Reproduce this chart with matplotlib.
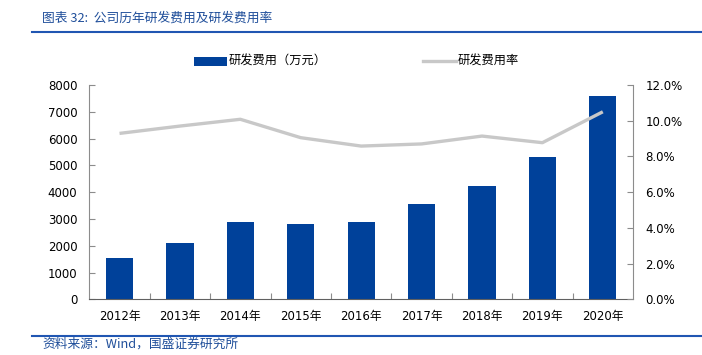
import matplotlib
matplotlib.use("Agg")
import matplotlib.pyplot as plt
from matplotlib.patches import Rectangle
from matplotlib.lines import Line2D
from matplotlib.ticker import FuncFormatter

plt.rcParams["font.family"] = ["DejaVu Sans", "Noto Sans CJK SC"]

years = ["2012年", "2013年", "2014年", "2015年", "2016年",
         "2017年", "2018年", "2019年", "2020年"]
rd_expense = [1552, 2090, 2896, 2821, 2873, 3567, 4216, 5299, 7597]
rd_ratio = [9.29, 9.70, 10.08, 9.05, 8.58, 8.70, 9.14, 8.77, 10.50]

BLUE = "#00419A"
GRAY = "#C8C8C8"
TITLE_BLUE = "#1F4E9A"
RULE_BLUE = "#2056B2"
AXIS = "#8C8C8C"
CJK = ["Noto Sans CJK SC", "DejaVu Sans"]

W, H = 702, 355
fig = plt.figure(figsize=(W / 100, H / 100), dpi=100, facecolor="white")

# plot area in pixels: x 89..633, y 85..299
ax = fig.add_axes([89.3 / W, 1 - 299.3 / H, (633 - 89.3) / W, (299.3 - 85) / H])
x = list(range(len(years)))
ax.bar(x, rd_expense, width=0.45, color=BLUE, zorder=2)
ax.set_xlim(-0.5, len(years) - 0.5)
ax.set_ylim(0, 8000)
ax.set_yticks(range(0, 8001, 1000))
ax.set_xticks([i + 0.5 for i in x[:-1]], minor=False)
ax.set_xticklabels([])
ax.set_xticks(x, minor=True)
ax.set_xticklabels(years, minor=True, fontsize=8.5)
ax.tick_params(axis="x", which="minor", length=0, pad=8)
ax.tick_params(axis="x", which="major", direction="in", length=4, color=AXIS)
ax.tick_params(axis="y", direction="in", length=4, color=AXIS, labelsize=8.5, pad=8.5)
for s in ("top", "right"):
    ax.spines[s].set_visible(False)
ax.spines["left"].set_color(AXIS)
ax.spines["bottom"].set_color("#606060")

ax2 = ax.twinx()
ax2.plot(x, rd_ratio, color=GRAY, linewidth=2.4, solid_capstyle="butt", zorder=3)
ax2.set_ylim(0, 12)
ax2.set_yticks(range(0, 13, 2))
ax2.yaxis.set_major_formatter(FuncFormatter(lambda v, p: f"{v:.1f}%"))
ax2.tick_params(axis="y", direction="in", length=4, color=AXIS, labelsize=8.5, pad=9)
for s in ("top", "left", "bottom"):
    ax2.spines[s].set_visible(False)
ax2.spines["right"].set_color(AXIS)

# legend drawn in figure pixels
def px(xp, yp):
    return xp / W, 1 - yp / H

fig.patches.append(Rectangle(px(194, 66), 33 / W, 9 / H, facecolor=BLUE,
                             edgecolor="none", transform=fig.transFigure))
fig.text(*px(229, 61), "研发费用（万元）", family=CJK, fontsize=8.8,
         va="center", ha="left")
fig.lines.append(Line2D([423 / W, 456 / W], [1 - 61 / H, 1 - 61 / H],
                        color=GRAY, linewidth=2.4, transform=fig.transFigure))
fig.text(*px(458, 61), "研发费用率", family=CJK, fontsize=8.8,
         va="center", ha="left")

# header / footer
fig.text(*px(42, 18), "图表 32:  公司历年研发费用及研发费用率", family=CJK,
         fontsize=9.2, color=TITLE_BLUE, va="center", ha="left", style="italic")
fig.lines.append(Line2D([32 / W, 1], [1 - 32 / H, 1 - 32 / H],
                        color=RULE_BLUE, linewidth=1.5, transform=fig.transFigure))
fig.lines.append(Line2D([32 / W, 1], [1 - 335.5 / H, 1 - 335.5 / H],
                        color=RULE_BLUE, linewidth=1.5, transform=fig.transFigure))
fig.text(*px(42, 344), "资料来源：Wind，国盛证券研究所", family=CJK,
         fontsize=9.2, color=TITLE_BLUE, va="center", ha="left", style="italic")

fig.savefig("out.png", dpi=100, facecolor="white")
